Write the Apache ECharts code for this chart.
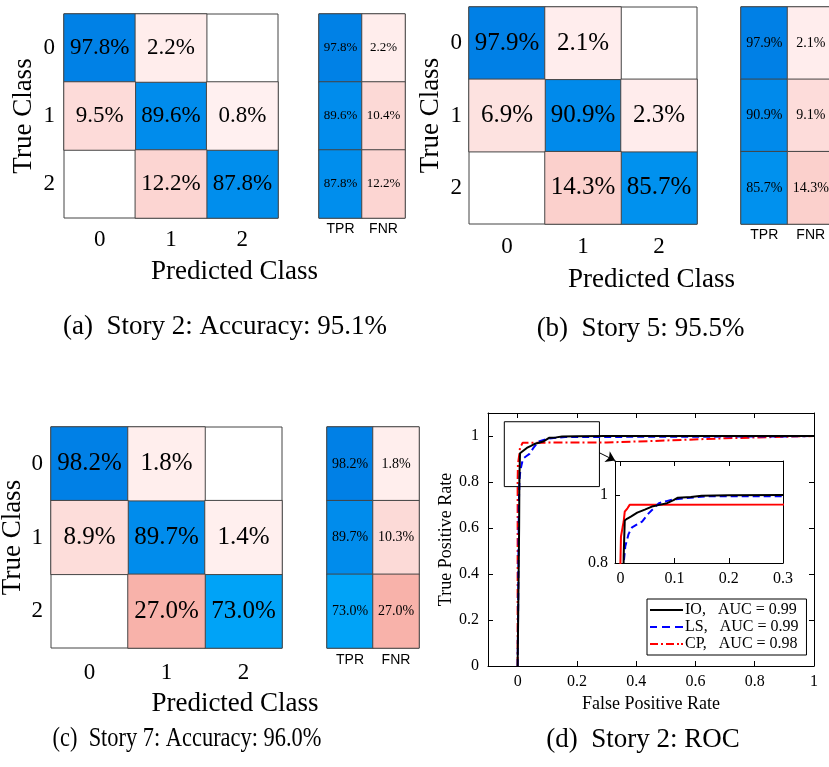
<!DOCTYPE html>
<html>
<head>
<meta charset="utf-8">
<script src="https://cdn.jsdelivr.net/npm/echarts@6/dist/echarts.min.js"></script>
<style>html,body{margin:0;padding:0;background:#fff}#c{width:829px;height:767px}</style>
</head>
<body>
<div id="c"></div>
<script>
// ---------- data ----------
const classes = ['0', '1', '2'];
const rateLabels = ['TPR', 'FNR'];

const confA = [[97.8, 2.2, 0], [9.5, 89.6, 0.8], [0, 12.2, 87.8]];
const tprA = [97.8, 89.6, 87.8];
const fnrA = [2.2, 10.4, 12.2];

const confB = [[97.9, 2.1, 0], [6.9, 90.9, 2.3], [0, 14.3, 85.7]];
const tprB = [97.9, 90.9, 85.7];
const fnrB = [2.1, 9.1, 14.3];

const confC = [[98.2, 1.8, 0], [8.9, 89.7, 1.4], [0, 27.0, 73.0]];
const tprC = [98.2, 89.7, 73.0];
const fnrC = [1.8, 10.3, 27.0];

const captions = ['(a)  Story 2: Accuracy: 95.1%', '(b)  Story 5: 95.5%', '(c)  Story 7: Accuracy: 96.0%', '(d)  Story 2: ROC'];

const fprIO = [0, 0.004, 0.005, 0.006, 0.008, 0.012, 0.02, 0.031, 0.045, 0.058, 0.072, 0.086, 0.098, 0.106, 0.13, 0.15, 0.2, 0.3, 0.5, 0.8, 1];
const tprIO = [0, 0, 0.60, 0.82, 0.925, 0.930, 0.937, 0.948, 0.957, 0.966, 0.971, 0.976, 0.985, 0.992, 0.994, 0.998, 0.999, 1.0, 1.0, 1.0, 1.0];

const fprLS = [0, 0.002, 0.004, 0.006, 0.009, 0.015, 0.0215, 0.03, 0.04, 0.052, 0.062, 0.071, 0.085, 0.098, 0.115, 0.129, 0.16, 0.3, 0.6, 0.9, 1];
const tprLS = [0, 0.3, 0.70, 0.80, 0.849, 0.885, 0.905, 0.913, 0.922, 0.946, 0.962, 0.976, 0.982, 0.987, 0.990, 0.992, 0.996, 0.996, 0.997, 0.998, 1.0];

const fprCP = [0, 0, 0.001, 0.004, 0.006, 0.008, 0.013, 0.017, 0.05, 0.3, 0.45, 0.7, 1];
const tprCP = [0, 0.80, 0.878, 0.905, 0.922, 0.951, 0.961, 0.971, 0.971, 0.972, 0.978, 0.99, 1.0];

const rocNames = ['IO,   AUC = 0.99', 'LS,   AUC = 0.99', 'CP,   AUC = 0.98'];

// zoom window drawn on the main ROC plot, and arrow to the inset (data coords)
const zoomBoxFrom = [-0.045, 0.78];
const zoomBoxTo = [0.276, 1.062];
const arrowFrom = [0.276, 0.927];
const arrowTo = [0.329, 0.893];

// ---------- helpers ----------
const SERIF = '"Liberation Serif", "Times New Roman", Times, serif';
const SANS = '"Liberation Sans", Arial, Helvetica, sans-serif';
const zip = (a, b) => a.map((v, i) => [v, b[i]]);
const pct = p => p.value[2].toFixed(1) + '%';

function cells(mat, diag) {
  const out = [];
  mat.forEach((row, i) => row.forEach((v, j) => {
    if (v > 0 && ((i === j) === diag)) out.push([j, i, v]);
  }));
  return out;
}
function col(vals, c) { return vals.map((v, i) => [c, i, v]); }

const panels = [
  { conf: confA, tpr: tprA, fnr: fnrA, main: [64, 14, 214, 204], side: [319, 14, 86, 204], big: 23, small: 13,
    tickMargin: 10, rowMargin: 9, yGap: 27, rateMargin: 4 },
  { conf: confB, tpr: tprB, fnr: fnrB, main: [469, 7, 228, 217], side: [741, 7, 93, 217], big: 25, small: 14,
    tickMargin: 11, rowMargin: 7, yGap: 25, rateMargin: 4 },
  { conf: confC, tpr: tprC, fnr: fnrC, main: [51, 427, 231, 221], side: [327, 427, 92, 221], big: 25, small: 14,
    tickMargin: 13, rowMargin: 8, yGap: 25, rateMargin: 5 }
];

const grids = [], xAxes = [], yAxes = [], series = [];
const diagIdx = [], offIdx = [];

panels.forEach((p, k) => {
  const gm = grids.length;
  grids.push({ left: p.main[0], top: p.main[1], width: p.main[2], height: p.main[3], show: true,
    borderColor: '#444', borderWidth: 1, backgroundColor: 'transparent', containLabel: false, outerBoundsMode: 'none' });
  const gs = grids.length;
  grids.push({ left: p.side[0], top: p.side[1], width: p.side[2], height: p.side[3], show: true,
    borderColor: '#444', borderWidth: 1, backgroundColor: 'transparent', containLabel: false, outerBoundsMode: 'none' });

  xAxes.push({ type: 'category', gridIndex: gm, data: classes, position: 'bottom',
    axisLine: { show: false }, axisTick: { show: false }, splitLine: { show: false },
    axisLabel: { fontFamily: SERIF, fontSize: 23, color: '#000', margin: p.tickMargin } });
  yAxes.push({ type: 'category', gridIndex: gm, data: classes, inverse: true,
    axisLine: { show: false }, axisTick: { show: false }, splitLine: { show: false },
    axisLabel: { fontFamily: SERIF, fontSize: 23, color: '#000', margin: p.rowMargin },
    name: 'True Class', nameLocation: 'middle', nameGap: p.yGap,
    nameTextStyle: { fontFamily: SERIF, fontSize: 27, color: '#000' } });
  xAxes.push({ type: 'category', gridIndex: gs, data: rateLabels, position: 'bottom',
    axisLine: { show: false }, axisTick: { show: false }, splitLine: { show: false },
    axisLabel: { fontFamily: SANS, fontSize: 14, color: '#000', margin: p.rateMargin } });
  yAxes.push({ type: 'category', gridIndex: gs, data: classes, inverse: true,
    axisLine: { show: false }, axisTick: { show: false }, splitLine: { show: false },
    axisLabel: { show: false } });

  const base = { type: 'heatmap', itemStyle: { borderColor: '#444', borderWidth: 1 }, emphasis: { disabled: true } };
  diagIdx.push(series.length);
  series.push(Object.assign({}, base, { xAxisIndex: gm, yAxisIndex: gm, data: cells(p.conf, true),
    label: { show: true, formatter: pct, fontFamily: SERIF, fontSize: p.big, color: '#000' } }));
  offIdx.push(series.length);
  series.push(Object.assign({}, base, { xAxisIndex: gm, yAxisIndex: gm, data: cells(p.conf, false),
    label: { show: true, formatter: pct, fontFamily: SERIF, fontSize: p.big, color: '#000' } }));
  diagIdx.push(series.length);
  series.push(Object.assign({}, base, { xAxisIndex: gs, yAxisIndex: gs, data: col(p.tpr, 0),
    label: { show: true, formatter: pct, fontFamily: SERIF, fontSize: p.small, color: '#000' } }));
  offIdx.push(series.length);
  series.push(Object.assign({}, base, { xAxisIndex: gs, yAxisIndex: gs, data: col(p.fnr, 1),
    label: { show: true, formatter: pct, fontFamily: SERIF, fontSize: p.small, color: '#000' } }));
});

// ---------- ROC ----------
const gRoc = grids.length;
grids.push({ left: 488, top: 413, width: 326, height: 253, show: false, containLabel: false, outerBoundsMode: 'none' });
const gIn = grids.length;
grids.push({ left: 615, top: 461, width: 168, height: 102, show: true, backgroundColor: '#fff', borderWidth: 0,
  containLabel: false, outerBoundsMode: 'none', z: 3 });

const fmt = v => (Math.abs(v) < 1e-9 ? '0' : String(+v.toFixed(2)));
const axLine = { show: true, onZero: false, lineStyle: { color: '#000', width: 1 } };
const tickIn = { show: true, inside: true, length: 5, lineStyle: { color: '#000' } };
const lbl = (m) => ({ fontFamily: SERIF, fontSize: 16, color: '#000', margin: m, formatter: fmt });

const xRoc = xAxes.length;
xAxes.push({ type: 'value', gridIndex: gRoc, min: -0.1, max: 1, splitNumber: 5, position: 'bottom',
  axisLine: axLine, axisTick: tickIn, splitLine: { show: false },
  axisLabel: Object.assign(lbl(8), { showMinLabel: false }),
  name: 'False Positive Rate', nameLocation: 'middle', nameGap: 29,
  nameTextStyle: { fontFamily: SERIF, fontSize: 18, color: '#000' } });
xAxes.push({ type: 'value', gridIndex: gRoc, min: -0.1, max: 1, splitNumber: 5, position: 'top',
  axisLine: axLine, axisTick: tickIn, splitLine: { show: false }, axisLabel: { show: false } });
const yRoc = yAxes.length;
yAxes.push({ type: 'value', gridIndex: gRoc, min: 0, max: 1.1, interval: 0.2, position: 'left',
  axisLine: axLine, axisTick: tickIn, splitLine: { show: false },
  axisLabel: Object.assign(lbl(9), { showMaxLabel: false }),
  name: 'True Positive Rate', nameLocation: 'middle', nameGap: 31,
  nameTextStyle: { fontFamily: SERIF, fontSize: 18, color: '#000' } });
yAxes.push({ type: 'value', gridIndex: gRoc, min: 0, max: 1.1, interval: 0.2, position: 'right',
  axisLine: axLine, axisTick: tickIn, splitLine: { show: false }, axisLabel: { show: false } });

const xIn = xAxes.length;
xAxes.push({ type: 'value', gridIndex: gIn, min: -0.01, max: 0.3, splitNumber: 3, position: 'bottom',
  axisLine: axLine, axisTick: tickIn, splitLine: { show: false },
  axisLabel: Object.assign(lbl(8), { showMinLabel: false }), z: 4 });
xAxes.push({ type: 'value', gridIndex: gIn, min: -0.01, max: 0.3, splitNumber: 3, position: 'top',
  axisLine: axLine, axisTick: tickIn, splitLine: { show: false }, axisLabel: { show: false }, z: 4 });
const yIn = yAxes.length;
yAxes.push({ type: 'value', gridIndex: gIn, min: 0.8, max: 1.1, interval: 0.2, position: 'left',
  axisLine: axLine, axisTick: tickIn, splitLine: { show: false },
  axisLabel: Object.assign(lbl(7), { showMaxLabel: false }), z: 4 });
yAxes.push({ type: 'value', gridIndex: gIn, min: 0.8, max: 1.1, interval: 0.2, position: 'right',
  axisLine: axLine, axisTick: tickIn, splitLine: { show: false }, axisLabel: { show: false }, z: 4 });

const rocStyles = [
  { color: '#000000', type: 'solid', icon: 'path://M0,0H33V2H0Z' },
  { color: '#0000ff', type: [7, 4], icon: 'path://M0,0H7V2H0Z M12,0H20V2H12Z M25,0H33V2H25Z' },
  { color: '#ff0000', type: [9, 3, 2, 3], icon: 'path://M0,0H8V2H0Z M11,0H13V2H11Z M16,0H24V2H16Z M27,0H29V2H27Z M31,0H33V2H31Z' }
];
const rocData = [zip(fprIO, tprIO), zip(fprLS, tprLS), zip(fprCP, tprCP)];

rocData.forEach((d, i) => {
  const s = { type: 'line', name: rocNames[i], xAxisIndex: xRoc, yAxisIndex: yRoc, data: d,
    symbol: 'none', showSymbol: false, silent: true, z: 4 - i * 0.1,
    itemStyle: { color: rocStyles[i].color },
    lineStyle: { color: rocStyles[i].color, width: 2, type: rocStyles[i].type } };
  if (i === 0) {
    s.markArea = { silent: true, itemStyle: { color: 'rgba(0,0,0,0)', borderColor: '#000', borderWidth: 1 },
      data: [[{ coord: zoomBoxFrom }, { coord: zoomBoxTo }]] };
    s.markLine = { silent: true, symbol: ['none', 'arrow'], symbolSize: 9, animation: false,
      lineStyle: { color: '#000', width: 1, type: 'solid' }, label: { show: false },
      data: [[{ coord: arrowFrom }, { coord: arrowTo }]] };
  }
  series.push(s);
});
rocData.forEach((d, i) => {
  series.push({ type: 'line', name: rocNames[i] + ' (inset)', xAxisIndex: xIn, yAxisIndex: yIn, data: d,
    symbol: 'none', showSymbol: false, silent: true, z: 5 - i * 0.1,
    itemStyle: { color: rocStyles[i].color },
    lineStyle: { color: rocStyles[i].color, width: 2, type: i === 1 ? rocStyles[i].type : 'solid' } });
});

// ---------- texts ----------
const txt = (text, x, y, size, extra) => Object.assign({
  type: 'text', x: x, y: y, silent: true, z: 10,
  style: { text: text, font: size + 'px ' + SERIF, fontSize: size, fontFamily: SERIF, fill: '#000',
    align: 'center', verticalAlign: 'middle', textAlign: 'center', textVerticalAlign: 'middle' }
}, extra || {});

const graphics = [
  txt('Predicted Class', 234.5, 272, 27),
  txt('Predicted Class', 651.5, 280, 27),
  txt('Predicted Class', 235, 704, 27),
  txt(captions[0], 225, 327, 27),
  txt(captions[1], 640.5, 329, 27),
  txt(captions[2], 187, 739, 27, { scaleX: 0.83 }),
  txt(captions[3], 643, 740, 27)
];

const option = {
  animation: false,
  backgroundColor: '#fff',
  grid: grids,
  xAxis: xAxes,
  yAxis: yAxes,
  visualMap: [
    { type: 'continuous', show: false, seriesIndex: diagIdx, dimension: 2, min: 73, max: 98.2,
      inRange: { color: ['#00a3f7', '#0080e6'] } },
    { type: 'continuous', show: false, seriesIndex: offIdx, dimension: 2, min: 0.8, max: 27,
      inRange: { color: ['#fff0f0', '#f8b2aa'] } }
  ],
  legend: {
    data: rocNames.map((n, i) => ({ name: n, icon: rocStyles[i].icon, itemStyle: { color: rocStyles[i].color } })),
    orient: 'vertical', left: 647, top: 599,
    backgroundColor: '#fff', borderColor: '#000', borderWidth: 1, borderRadius: 0,
    padding: [3, 8, 3, 3], itemGap: 1, itemWidth: 33, itemHeight: 2, symbolKeepAspect: false,
    textStyle: { fontFamily: SERIF, fontSize: 16, color: '#000', padding: [0, 0, 0, -3], lineHeight: 16 },
    selectedMode: false, z: 20
  },
  series: series,
  graphic: { elements: graphics }
};

const chart = echarts.init(document.getElementById('c'), null, { renderer: 'canvas', width: 829, height: 767 });
chart.setOption(option);
</script>
</body>
</html>
